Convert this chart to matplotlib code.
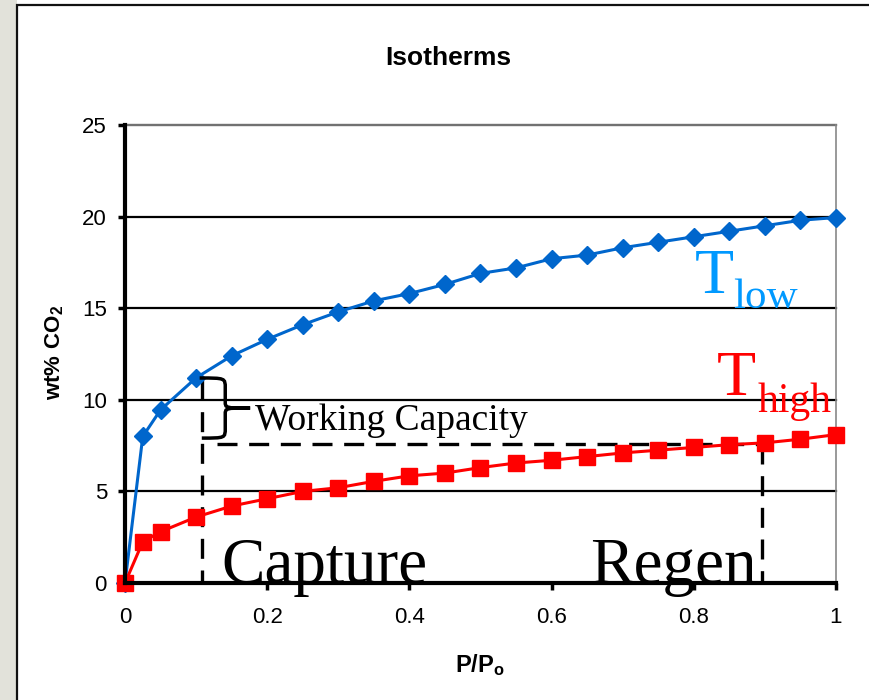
import numpy as np
import matplotlib
matplotlib.use("Agg")
import matplotlib.pyplot as plt
from matplotlib.path import Path
from matplotlib.patches import PathPatch, Rectangle

plt.rcParams['font.family'] = ['Liberation Sans', 'DejaVu Sans']
plt.rcParams['mathtext.fontset'] = 'custom'
plt.rcParams['mathtext.rm'] = 'Liberation Sans'
plt.rcParams['mathtext.bf'] = 'Liberation Sans:bold'

# isotherm data
p_rel = [0, 0.025, 0.05, 0.1, 0.15, 0.2, 0.25, 0.3, 0.35, 0.4, 0.45, 0.5,
         0.55, 0.6, 0.65, 0.7, 0.75, 0.8, 0.85, 0.9, 0.95, 1.0]
wt_low = [0, 8.0, 9.45, 11.2, 12.4, 13.3, 14.1, 14.8, 15.4, 15.8, 16.3, 16.9,
          17.2, 17.7, 17.9, 18.3, 18.6, 18.9, 19.2, 19.5, 19.8, 19.95]
wt_high = [0, 2.25, 2.8, 3.6, 4.2, 4.6, 5.0, 5.2, 5.55, 5.85, 6.0, 6.3,
           6.55, 6.7, 6.9, 7.1, 7.25, 7.4, 7.55, 7.65, 7.85, 8.1]

# working capacity guide lines
p_capture = 0.108
p_regen = 0.896
wt_capture = 11.1
wt_regen = 7.6

x_ticks = [0, 0.2, 0.4, 0.6, 0.8, 1]
x_tick_labels = ['0', '0.2', '0.4', '0.6', '0.8', '1']
y_ticks = [0, 5, 10, 15, 20, 25]

blue = '#0066CC'
blue_txt = '#0099FF'
red = '#FF0000'

fig = plt.figure(figsize=(8.7, 7), dpi=100)
fig.patch.set_facecolor('white')

# slide-like frame on the left
fig.patches.append(Rectangle((0, 0), 17 / 870, 1, transform=fig.transFigure,
                             facecolor='#E2E2DA', edgecolor='none', zorder=0))
fig.patches.append(Rectangle((17 / 870, -0.1), 1.5, 1 - 5 / 700 + 0.1,
                             transform=fig.transFigure, facecolor='none',
                             edgecolor='#111111', linewidth=1.6, zorder=1))

ax = fig.add_axes([125 / 870, 1 - 583 / 700, 711 / 870, 458 / 700])
ax.set_xlim(0, 1)
ax.set_ylim(0, 25)

for y in y_ticks[1:]:
    ax.axhline(y, color='black', linewidth=1.6, zorder=1, clip_on=False)

ax.plot(p_rel, wt_low, color=blue, linewidth=2.2, marker='D', markersize=9,
        markerfacecolor=blue, markeredgecolor=blue, zorder=4, clip_on=False)
ax.plot(p_rel, wt_high, color=red, linewidth=2.2, marker='s', markersize=11,
        markerfacecolor=red, markeredgecolor=red, zorder=5, clip_on=False)

dash = dict(color='black', linewidth=2.4, linestyle=(0, (6, 3.5)), zorder=3)
ax.plot([p_capture, p_capture], [wt_capture, 0], **dash)
ax.plot([0.129, p_regen], [wt_regen, wt_regen], **dash)
ax.plot([p_regen, p_regen], [wt_regen, 0], **dash)

# curly brace
x0, xm, xt = 0.105, 0.141, 0.176
yt, ym, yb = 11.19, 9.55, 7.91
verts = [(x0, yt), (xm, yt), (xm, yt), (xm, yt - 0.55),
         (xm, ym + 0.35),
         (xm, ym), (xm, ym), (xt, ym),
         (xm, ym), (xm, ym), (xm, ym - 0.35),
         (xm, yb + 0.55),
         (xm, yb), (xm, yb), (x0 + 0.003, yb)]
codes = [Path.MOVETO, Path.CURVE4, Path.CURVE4, Path.CURVE4,
         Path.LINETO,
         Path.CURVE4, Path.CURVE4, Path.CURVE4,
         Path.CURVE4, Path.CURVE4, Path.CURVE4,
         Path.LINETO,
         Path.CURVE4, Path.CURVE4, Path.CURVE4]
ax.add_patch(PathPatch(Path(verts, codes), facecolor='none',
                       edgecolor='black', linewidth=2.5, zorder=6))

serif = ['Liberation Serif', 'DejaVu Serif']
ax.text(0.183, 8.35, 'Working Capacity', family=serif, fontsize=27,
        va='baseline', ha='left', zorder=7)
ax.text(0.136, 0, 'Capture', family=serif, fontsize=47, va='baseline',
        ha='left', zorder=7, clip_on=False)
ax.text(0.654, 0, 'Regen', family=serif, fontsize=47, va='baseline',
        ha='left', zorder=7, clip_on=False)
ax.text(0.802, 15.83, 'T', family=serif, fontsize=46, color=blue_txt,
        va='baseline', ha='left', zorder=7)
ax.text(0.855, 15.01, 'low', family=serif, fontsize=31, color=blue_txt,
        va='baseline', ha='left', zorder=7)
ax.text(0.832, 10.26, 'T', family=serif, fontsize=46, color=red,
        va='baseline', ha='left', zorder=7)
ax.text(0.889, 9.33, 'high', family=serif, fontsize=30, color=red,
        va='baseline', ha='left', zorder=7)

ax.set_xticks(x_ticks)
ax.set_xticklabels(x_tick_labels)
ax.set_yticks(y_ticks)
ax.tick_params(axis='both', direction='out', length=5, width=2.5,
               labelsize=16, colors='black')
ax.tick_params(axis='x', pad=12)
ax.tick_params(axis='y', pad=8)

for side in ['left', 'bottom']:
    ax.spines[side].set_linewidth(3)
    ax.spines[side].set_color('black')
    ax.spines[side].set_zorder(6)
for side in ['top', 'right']:
    ax.spines[side].set_linewidth(1.2)
    ax.spines[side].set_color('#888888')

fig.text(0.515, 1 - 58 / 700, 'Isotherms', fontsize=19, fontweight='bold',
         ha='center', va='center')
fig.text(480 / 870, 1 - 665 / 700, r'$\mathbf{P/P_o}$', fontsize=17,
         ha='center', va='center')
fig.text(55 / 870, 1 - 352 / 700, r'$\mathbf{wt\%\ CO_2}$', fontsize=16,
         ha='center', va='center', rotation=90)

fig.savefig('out.png', dpi=100)
